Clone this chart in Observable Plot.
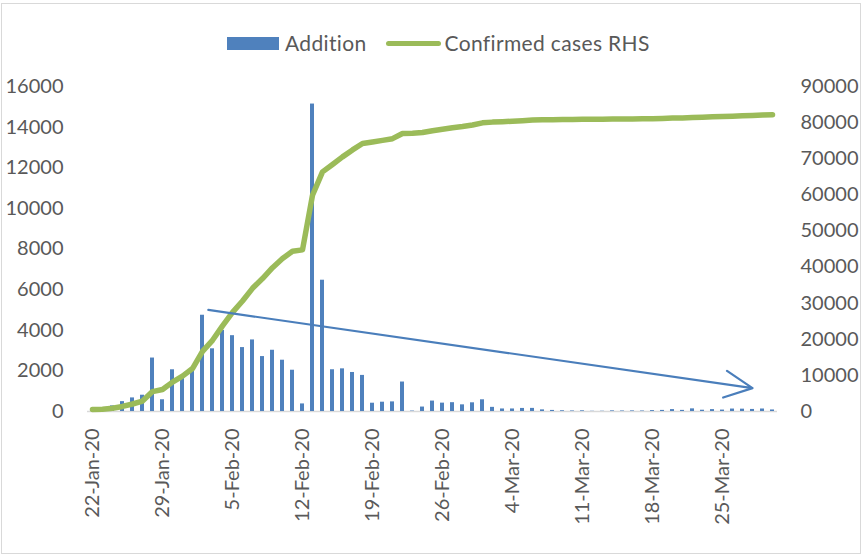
<!DOCTYPE html>
<html>
<head>
<meta charset="utf-8">
<script src="https://cdn.jsdelivr.net/npm/d3@7"></script>
<script src="https://cdn.jsdelivr.net/npm/@observablehq/plot@0.6"></script>
<style>
  body { margin: 0; background: #fff; font-family: Lato, "Open Sans", sans-serif; }
  #wrap { position: relative; width: 863px; height: 558px; overflow: hidden; background: #fff; }
  #frame { position: absolute; left: 1px; top: 3px; width: 858px; height: 549px; border: 1.5px solid #d9d9d9; pointer-events: none; }
  #legend { position: absolute; top: 33px; left: 227px; height: 20px; display: flex; align-items: center; font-size: 21px; letter-spacing: 0.35px; color: #595959; line-height: 20px; white-space: nowrap; }
  .sw-bar { width: 52px; height: 13px; background: #4F81BD; margin-right: 6px; }
  .sw-line { width: 55px; height: 5px; background: #9BBB59; border-radius: 3px; margin-right: 4px; }
  #chart { position: absolute; left: 0; top: 60px; }
</style>
</head>
<body>
<div id="wrap">
  <div id="legend">
    <div class="sw-bar"></div><span style="margin-right:19px">Addition</span>
    <div class="sw-line"></div><span>Confirmed cases RHS</span>
  </div>
  <div id="chart"></div>
  <div id="frame"></div>
</div>
<script>
// Categories: one per day
const dates = [
  "2020-01-22","2020-01-23","2020-01-24","2020-01-25","2020-01-26","2020-01-27","2020-01-28","2020-01-29","2020-01-30","2020-01-31",
  "2020-02-01","2020-02-02","2020-02-03","2020-02-04","2020-02-05","2020-02-06","2020-02-07","2020-02-08","2020-02-09","2020-02-10",
  "2020-02-11","2020-02-12","2020-02-13","2020-02-14","2020-02-15","2020-02-16","2020-02-17","2020-02-18","2020-02-19","2020-02-20",
  "2020-02-21","2020-02-22","2020-02-23","2020-02-24","2020-02-25","2020-02-26","2020-02-27","2020-02-28","2020-02-29",
  "2020-03-01","2020-03-02","2020-03-03","2020-03-04","2020-03-05","2020-03-06","2020-03-07","2020-03-08","2020-03-09","2020-03-10",
  "2020-03-11","2020-03-12","2020-03-13","2020-03-14","2020-03-15","2020-03-16","2020-03-17","2020-03-18","2020-03-19","2020-03-20",
  "2020-03-21","2020-03-22","2020-03-23","2020-03-24","2020-03-25","2020-03-26","2020-03-27","2020-03-28","2020-03-29","2020-03-30"
];
// Daily addition (left axis)
const addition = [
  null, 95, 277, 486, 669, 802, 2632, 578, 2054, 1661,
  2089, 4739, 3086, 3991, 3733, 3147, 3523, 2704, 3015, 2525,
  2032, 373, 15136, 6463, 2055, 2100, 1921, 1777, 408, 458,
  473, 1451, 21, 219, 513, 412, 434, 328, 428,
  576, 204, 125, 125, 151, 153, 80, 53, 37, 27,
  34, 11, 13, 32, 26, 30, 25, 44, 54, 94,
  55, 130, 63, 93, 70, 121, 115, 102, 123, 76
];
// Cumulative confirmed cases (right axis)
const confirmed = [
  548, 643, 920, 1406, 2075, 2877, 5509, 6087, 8141, 9802,
  11891, 16630, 19716, 23707, 27440, 30587, 34110, 36814, 39829, 42354,
  44386, 44759, 59895, 66358, 68413, 70513, 72434, 74211, 74619, 75077,
  75550, 77001, 77022, 77241, 77754, 78166, 78600, 78928, 79356,
  79932, 80136, 80261, 80386, 80537, 80690, 80770, 80823, 80860, 80887,
  80921, 80932, 80945, 80977, 81003, 81033, 81058, 81102, 81156, 81250,
  81305, 81435, 81498, 81591, 81661, 81782, 81897, 81999, 82122, 82198
];
const leftTicks = [0, 2000, 4000, 6000, 8000, 10000, 12000, 14000, 16000];
const rightTicks = [0, 10000, 20000, 30000, 40000, 50000, 60000, 70000, 80000, 90000];
const xTickLabels = ["2020-01-22","2020-01-29","2020-02-05","2020-02-12","2020-02-19","2020-02-26","2020-03-04","2020-03-11","2020-03-18","2020-03-25"];
// Trend arrow annotation (date, addition value)
const arrowStart = ["2020-02-02T14:00:00Z", 5000];
const arrowEnd = ["2020-03-28T00:00:00Z", 1150];

const LEFT_MAX = 16000, RIGHT_MAX = 90000;
const ratio = LEFT_MAX / RIGHT_MAX;
const HALF = 12 * 3600 * 1000;
const parse = s => new Date(s + "T00:00:00Z");
const rows = dates.map((d, i) => ({date: parse(d), add: addition[i], conf: confirmed[i]}));
const fmt = d3.utcFormat("%-d-%b-%y");

const chart = Plot.plot({
  width: 863,
  height: 498,
  marginLeft: 87,
  marginRight: 86,
  marginTop: 26,
  marginBottom: 147,
  style: {fontFamily: "Lato, 'Open Sans', sans-serif", fontSize: "20px", color: "#595959", background: "transparent"},
  x: {type: "utc", domain: [new Date(+parse(dates[0]) - HALF), new Date(+parse(dates[dates.length - 1]) + HALF)]},
  y: {domain: [0, LEFT_MAX]},
  marks: [
    Plot.axisY(leftTicks, {anchor: "left", tickSize: 0, tickPadding: 24, label: null, tickFormat: d => String(d)}),
    Plot.axisY(rightTicks.map(v => v * ratio), {anchor: "right", tickSize: 0, tickPadding: 23, label: null, tickFormat: d => String(Math.round(d / ratio))}),
    Plot.axisX(xTickLabels.map(parse), {anchor: "bottom", tickSize: 0, tickPadding: 17, tickRotate: -90, label: null, tickFormat: fmt}),
    Plot.ruleY([0], {stroke: "#d9d9d9", strokeWidth: 1.5}),
    Plot.rectY(rows.filter(r => r.add != null), {
      x1: d => new Date(+d.date - HALF), x2: d => new Date(+d.date + HALF),
      y: "add", fill: "#4F81BD", insetLeft: 3, insetRight: 3
    }),
    Plot.line(rows, {x: "date", y: d => d.conf * ratio, stroke: "#9BBB59", strokeWidth: 5.5, strokeLinejoin: "round", strokeLinecap: "round"}),
    Plot.arrow([{x1: new Date(arrowStart[0]), y1: arrowStart[1], x2: new Date(arrowEnd[0]), y2: arrowEnd[1]}], {
      x1: "x1", y1: "y1", x2: "x2", y2: "y2", stroke: "#4A7EBB", strokeWidth: 2.2, headLength: 21, headAngle: 52
    })
  ]
});
document.getElementById("chart").appendChild(chart);
</script>
</body>
</html>
